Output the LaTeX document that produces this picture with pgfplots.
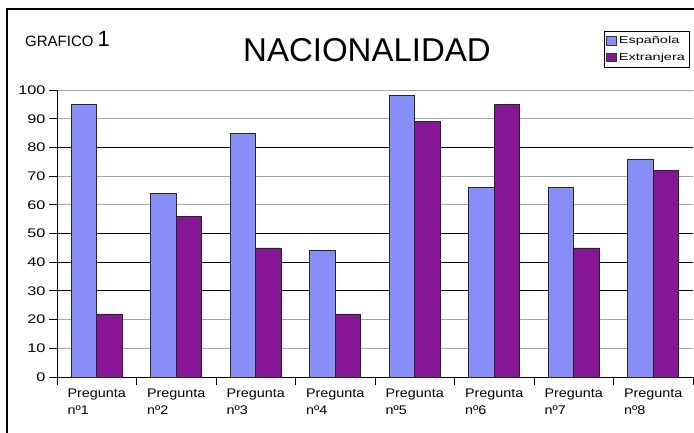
\documentclass[border=0pt]{standalone}
\usepackage{graphicx}
\usepackage{pgfplots}
\pgfplotsset{compat=1.18}
\usepackage{fontspec}
\setmainfont{Liberation Sans}

\definecolor{espcol}{RGB}{135,142,248}
\definecolor{extcol}{RGB}{134,22,150}
\newcommand\wide[2][1.3]{\scalebox{#1}[1]{#2}}

\begin{document}
\begin{tikzpicture}[x=1pt,y=1pt]
\useasboundingbox (0,0) rectangle (694,432);
\clip (0,0) rectangle (694,432);
\fill[white] (0,0) rectangle (694,432);
% outer frame of the sheet
\draw[line width=1.2pt] (7,-5) -- (7,423) -- (700,423);
\node[anchor=base west, inner sep=0pt] at (25,385)
  {\fontsize{15}{18}\selectfont GRAFICO \fontsize{22}{24}\selectfont 1};
\node[anchor=base, inner sep=0pt] at (367,370)
  {\fontsize{33}{36}\selectfont NACIONALIDAD};

\begin{axis}[
  at={(57pt,55pt)}, anchor=south west, scale only axis,
  width=636pt, height=287pt,
  xmin=-0.5, xmax=7.5, ymin=0, ymax=100,
  ybar=0pt, bar width=25.5pt,
  axis x line*=bottom, axis y line*=left,
  axis line style={-, black, line width=1pt},
  tick align=outside,
  major tick length=8pt,
  tick style={black, line width=0.9pt},
  /pgf/number format/assume math mode=true,
  ytick={0,10,...,100},
  yticklabel={\wide[1.3]{\pgfmathprintnumber{\tick}}},
  y tick label style={font=\fontsize{12.5}{14}\selectfont, anchor=east},
  ymajorgrids,
  major grid style={gray!70, line width=0.9pt},
  extra y ticks={30,40,50,80},
  extra y tick labels={},
  extra y tick style={grid=major, major grid style={black, line width=1.1pt}},
  xtick={-0.5,0.5,...,7.5},
  xticklabels={},
  extra x ticks={0,...,7},
  extra x tick labels={
    {\wide[1.15]{Pregunta}\\\wide[1.15]{nº1}},
    {\wide[1.15]{Pregunta}\\\wide[1.15]{nº2}},
    {\wide[1.15]{Pregunta}\\\wide[1.15]{nº3}},
    {\wide[1.15]{Pregunta}\\\wide[1.15]{nº4}},
    {\wide[1.15]{Pregunta}\\\wide[1.15]{nº5}},
    {\wide[1.15]{Pregunta}\\\wide[1.15]{nº6}},
    {\wide[1.15]{Pregunta}\\\wide[1.15]{nº7}},
    {\wide[1.15]{Pregunta}\\\wide[1.15]{nº8}}},
  extra x tick style={major tick length=0pt,
    tick label style={align=left, anchor=north, yshift=-8pt,
      font=\fontsize{12.5}{17}\selectfont}},
  legend style={at={(0.860,1.205)}, anchor=north west,
    draw=black, line width=0.8pt, inner xsep=2pt, inner ysep=3pt,
    font=\fontsize{10}{11}\selectfont, row sep=4pt,
    legend cell align=left},
  legend image code/.code={%
    \draw[#1, draw=black!80, line width=0.5pt] (0pt,-4pt) rectangle (10pt,4.5pt);},
  every axis plot/.append style={draw=black!85, line width=0.7pt},
]
\addplot[fill=espcol] coordinates {
  (0,95) (1,64) (2,85) (3,44) (4,98) (5,66) (6,66) (7,76)};
\addplot[fill=extcol] coordinates {
  (0,22) (1,56) (2,45) (3,22) (4,89) (5,95) (6,45) (7,72)};
\legend{\wide[1.45]{Española},\wide[1.45]{Extranjera}}
\end{axis}
\end{tikzpicture}
\end{document}
